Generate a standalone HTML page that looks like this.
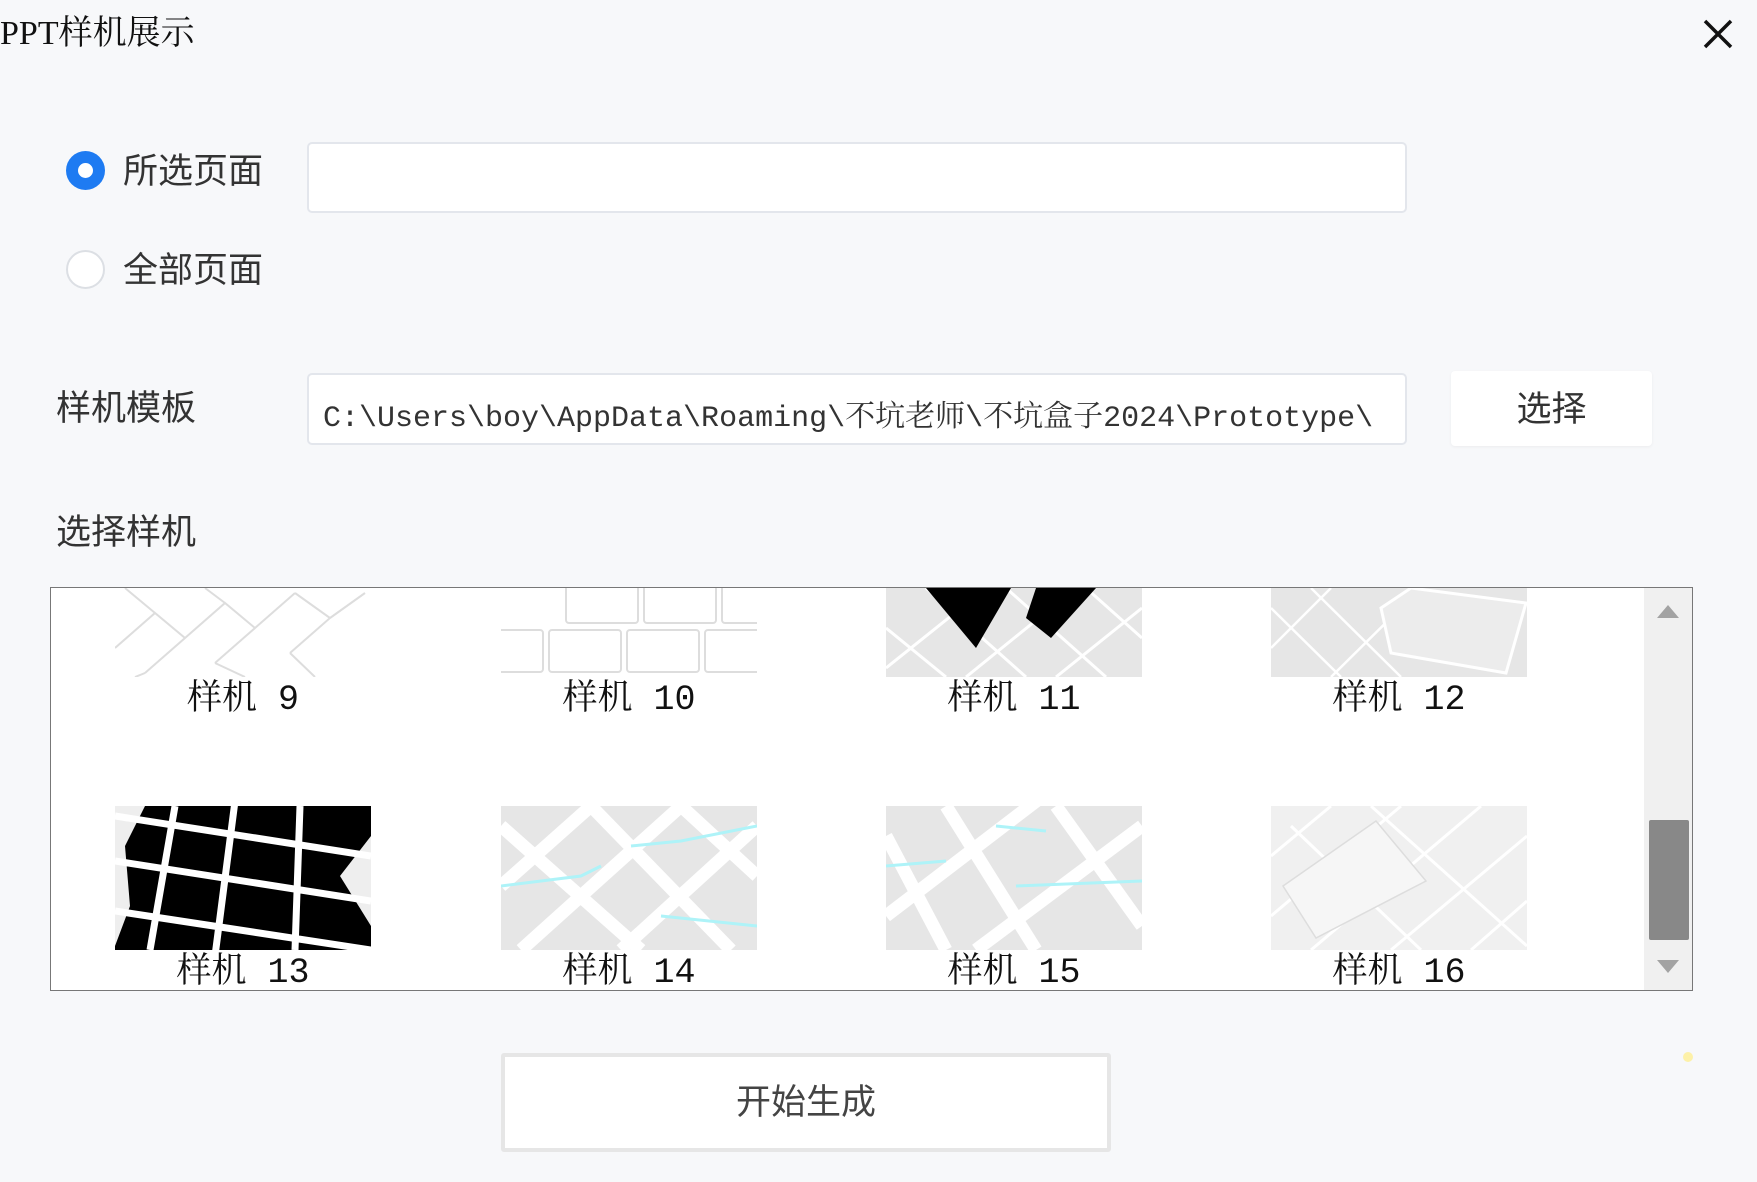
<!DOCTYPE html>
<html><head><meta charset="utf-8"><style>
*{margin:0;padding:0;box-sizing:border-box}
body{width:1757px;height:1182px;background:#f7f8fa;position:relative;overflow:hidden;font-family:"Liberation Serif","Noto Serif CJK SC",serif;color:#222}
.a{position:absolute}
.t{font-family:"Noto Sans CJK SC",sans-serif;font-size:35px;color:#333;line-height:1}
.inp{background:#fff;border:2px solid #e3e6ec;border-radius:5px}
.lbl{font-family:"Liberation Mono","Noto Serif CJK SC",monospace;font-size:35px;color:#111;width:256px;text-align:center;line-height:1}
.th{position:absolute;width:256px;overflow:hidden}
</style></head><body>
<div class="a" style="left:0;top:5px;font-size:34px;font-family:'Liberation Serif','Noto Serif CJK SC',serif;color:#111">PPT样机展示</div>
<svg class="a" style="left:1703px;top:19px" width="30" height="30"><path d="M2 2L28 28M28 2L2 28" stroke="#111" stroke-width="3.5"/></svg>

<div class="a" style="left:66px;top:151px;width:39px;height:39px;border-radius:50%;background:#1e7bf2"></div>
<div class="a" style="left:78px;top:163px;width:15px;height:15px;border-radius:50%;background:#fff"></div>
<div class="a t" style="left:123px;top:151px">所选页面</div>
<div class="a inp" style="left:307px;top:142px;width:1100px;height:71px"></div>

<div class="a" style="left:66px;top:250px;width:39px;height:39px;border-radius:50%;background:#fff;border:2px solid #dcdfe4"></div>
<div class="a t" style="left:123px;top:250px">全部页面</div>

<div class="a t" style="left:56px;top:388px">样机模板</div>
<div class="a inp" style="left:307px;top:373px;width:1100px;height:72px;overflow:hidden">
<div style="position:absolute;left:14px;top:16px;white-space:nowrap;font-family:'Liberation Mono','Noto Serif CJK SC',monospace;font-size:30px;color:#333;width:1068px;overflow:hidden">C:\Users\boy\AppData\Roaming\不坑老师\不坑盒子2024\Prototype\</div></div>
<div class="a" style="left:1451px;top:371px;width:201px;height:75px;background:#fff;border-radius:4px;box-shadow:0 1px 3px rgba(0,0,0,.05)"></div>
<div class="a t" style="left:1451px;top:389px;width:201px;text-align:center">选择</div>

<div class="a t" style="left:56px;top:512px">选择样机</div>

<div class="a" style="left:50px;top:587px;width:1643px;height:404px;background:#fff;border:1.5px solid #777;overflow:hidden">
 <svg class="th" style="left:64px;top:0" width="256" height="89"><g stroke="#ddd" stroke-width="2" fill="none"><path d="M0 60L40 25L70 50L30 85M40 25L10 0M70 50L110 15L140 40L100 75M110 15L90 0M140 40L180 5M180 5L215 30L175 65M215 30L250 5M100 75L130 89M175 65L200 89M30 85L20 89"/></g></svg>
 <svg class="th" style="left:450px;top:0" width="256" height="89"><g stroke="#ddd" stroke-width="2" fill="none"><rect x="65" y="-10" width="72" height="45" rx="3"/><rect x="143" y="-10" width="72" height="45" rx="3"/><rect x="221" y="-10" width="72" height="45" rx="3"/><rect x="-10" y="42" width="52" height="42" rx="3"/><rect x="48" y="42" width="72" height="42" rx="3"/><rect x="126" y="42" width="72" height="42" rx="3"/><rect x="204" y="42" width="72" height="42" rx="3"/></g></svg>
 <svg class="th" style="left:835px;top:0" width="256" height="89"><rect width="256" height="89" fill="#e6e6e6"/><g stroke="#fff" stroke-width="3"><path d="M0 40L60 89M40 0L140 89M120 0L220 89M200 0L256 50M0 80L100 0M80 89L190 0M170 89L256 20"/></g><path d="M40 0L125 0L90 60Z" fill="#000"/><path d="M150 0L210 0L165 50L140 30Z" fill="#000"/></svg>
 <svg class="th" style="left:1220px;top:0" width="256" height="89"><rect width="256" height="89" fill="#e6e6e6"/><g stroke="#fff" stroke-width="2.5" fill="none"><path d="M0 20L70 89M40 0L130 89M0 60L60 0M60 89L150 0"/></g><path d="M110 20L140 0L255 15L235 85L120 65Z" fill="#ececec" stroke="#fff" stroke-width="3"/></svg>
 <div class="a lbl" style="left:64px;top:95px">样机 9</div>
 <div class="a lbl" style="left:450px;top:95px">样机 10</div>
 <div class="a lbl" style="left:835px;top:95px">样机 11</div>
 <div class="a lbl" style="left:1220px;top:95px">样机 12</div>
 <svg class="th" style="left:64px;top:218px" width="256" height="144"><rect width="256" height="144" fill="#000"/><path d="M0 0L30 0L10 40L15 100L0 140Z" fill="#eee"/><path d="M256 30L225 70L256 120Z" fill="#eee"/><g stroke="#fff" stroke-width="7"><path d="M0 10L256 50M0 55L256 95M0 105L256 144M60 0L35 144M120 -5L100 150M185 0L180 144"/></g></svg>
 <svg class="th" style="left:450px;top:218px" width="256" height="144"><rect width="256" height="144" fill="#e6e6e6"/><g stroke="#fff" stroke-width="13"><path d="M0 80L90 0M20 144L180 0M120 144L256 20M0 20L140 144M90 0L230 144M180 0L256 70"/></g><path d="M0 80L80 70L100 60M130 40L180 35L256 20M160 110L256 120" stroke="#aef3f8" stroke-width="3" fill="none"/></svg>
 <svg class="th" style="left:835px;top:218px" width="256" height="144"><rect width="256" height="144" fill="#e6e6e6"/><g stroke="#fff" stroke-width="13"><path d="M0 30L60 144M60 0L150 144M170 0L256 120M0 110L170 -20M90 144L256 20"/></g><path d="M0 60L60 55M110 20L160 25M130 80L256 75" stroke="#aef3f8" stroke-width="3" fill="none"/></svg>
 <svg class="th" style="left:1220px;top:218px" width="256" height="144"><rect width="256" height="144" fill="#f0f0f0"/><g stroke="#fff" stroke-width="3"><path d="M0 50L60 0M0 110L130 0M40 144L210 0M120 144L256 30M200 144L256 95M100 0L256 140M20 20L150 144"/></g><path d="M12 80L105 15L155 75L45 132Z" fill="#f6f6f6" stroke="#ddd" stroke-width="1.5"/></svg>
 <div class="a lbl" style="left:64px;top:368px">样机 13</div>
 <div class="a lbl" style="left:450px;top:368px">样机 14</div>
 <div class="a lbl" style="left:835px;top:368px">样机 15</div>
 <div class="a lbl" style="left:1220px;top:368px">样机 16</div>
 <div class="a" style="left:1593px;top:0;width:49px;height:404px;background:#f0f0f0"></div>
 <svg class="a" style="left:1606px;top:16px" width="22" height="14"><path d="M0 14L11 1L22 14Z" fill="#a3a3a3"/></svg>
 <div class="a" style="left:1598px;top:232px;width:40px;height:120px;background:#888;border-radius:2px"></div>
 <svg class="a" style="left:1606px;top:372px" width="22" height="14"><path d="M0 0L11 13L22 0Z" fill="#a3a3a3"/></svg>
</div>

<div class="a" style="left:501px;top:1053px;width:610px;height:99px;background:#fff;border:4px solid #e6e6e6;border-radius:3px"></div>
<div class="a t" style="left:501px;top:1082px;width:610px;text-align:center;color:#444">开始生成</div>
<div class="a" style="left:1683px;top:1052px;width:10px;height:10px;border-radius:50%;background:#fdf1a8"></div>
</body></html>
